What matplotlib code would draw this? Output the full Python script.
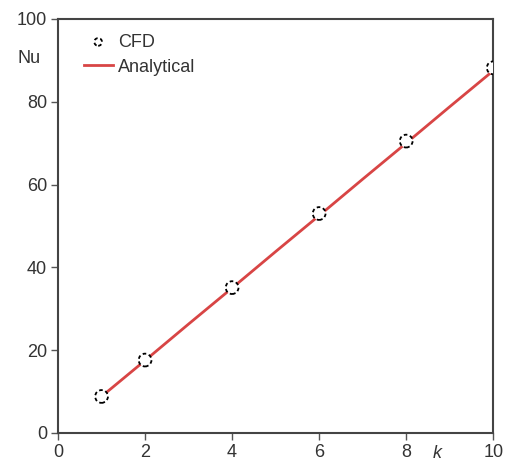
import matplotlib
matplotlib.use("Agg")
import matplotlib.pyplot as plt

# CFD results
k_cfd = [1, 2, 4, 6, 8, 10]
nu_cfd = [8.8, 17.6, 35.1, 53.0, 70.5, 88.2]

# analytical solution
k_ana = [1, 2, 3, 4, 5, 6, 7, 8, 9, 10]
nu_ana = [8.8, 17.5, 26.3, 35.0, 43.8, 52.5, 61.3, 70.0, 78.8, 87.5]

x_ticks = [0, 2, 4, 6, 8, 10]
y_ticks = [0, 20, 40, 60, 80, 100]

plt.rcParams["font.family"] = ["Liberation Sans", "DejaVu Sans"]
text_color = "#333333"

fig = plt.figure(figsize=(5.09, 4.63), dpi=100)
ax = fig.add_axes([0.114, 0.065, 0.855, 0.894])

ax.plot(k_ana, nu_ana, color="#d84545", linewidth=2.0, label="Analytical", zorder=2)
ax.scatter(k_cfd, nu_cfd, s=85, facecolor="white", edgecolor="black",
           linewidths=1.3, linestyle=(0, (2, 1.5)), label="CFD", zorder=3)

ax.set_xlim(0, 10)
ax.set_ylim(0, 100)
ax.set_xticks(x_ticks)
ax.set_yticks(y_ticks)
ax.tick_params(direction="out", length=5, width=1.0, colors="#555555",
               labelcolor=text_color, labelsize=13, pad=3)
for spine in ax.spines.values():
    spine.set_color("#444444")
    spine.set_linewidth(1.5)

ax.text(-0.067, 0.905, "Nu", transform=ax.transAxes, ha="center", va="center",
        fontsize=13, color=text_color)
ax.text(0.872, -0.05, "k", transform=ax.transAxes, ha="center", va="center",
        fontsize=13, style="italic", color=text_color)

handles, labels = ax.get_legend_handles_labels()
order = [labels.index("CFD"), labels.index("Analytical")]
leg = ax.legend([handles[i] for i in order], [labels[i] for i in order],
                loc="upper left", frameon=False, fontsize=13,
                handlelength=1.6, handletextpad=0.3, labelspacing=0.45,
                borderaxespad=0.3, markerscale=0.6,
                bbox_to_anchor=(0.03, 0.995))
for t in leg.get_texts():
    t.set_color(text_color)

fig.savefig("out.png", dpi=100)
